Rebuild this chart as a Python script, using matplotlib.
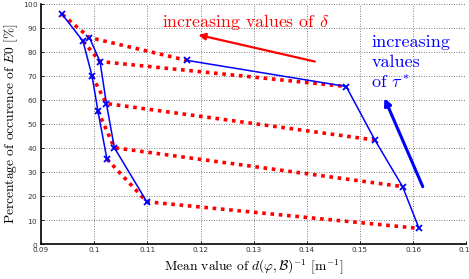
import numpy as np
import matplotlib
matplotlib.use('Agg')
import matplotlib.pyplot as plt

plt.rcParams['mathtext.fontset'] = 'cm'
plt.rcParams['font.family'] = 'serif'
plt.rcParams['font.serif'] = ['cmr10', 'DejaVu Serif']
plt.rcParams['axes.formatter.use_mathtext'] = True

# one row per delta value (blue curves), points ordered by tau*
x_delta1 = [0.0940, 0.0979, 0.0996, 0.1007, 0.1024]
y_delta1 = [95.6, 84.5, 70.0, 55.5, 35.4]
x_delta2 = [0.0991, 0.1011, 0.1023, 0.1038, 0.1099]
y_delta2 = [86.0, 76.0, 58.5, 40.1, 17.6]
x_delta3 = [0.1174, 0.1474, 0.1528, 0.1580, 0.1611]
y_delta3 = [76.5, 65.6, 43.3, 23.9, 6.5]

xticks = [0.09, 0.1, 0.11, 0.12, 0.13, 0.14, 0.15, 0.16, 0.17]
xtick_labels = ['0.09', '0.1', '0.11', '0.12', '0.13', '0.14', '0.15', '0.16', '0.17']
yticks = [0, 10, 20, 30, 40, 50, 60, 70, 80, 90, 100]

fig = plt.figure(figsize=(4.69, 2.79), dpi=100)
ax = fig.add_axes([0.0874, 0.1254, 0.907, 0.8606])

xs = np.array([x_delta1, x_delta2, x_delta3])
ys = np.array([y_delta1, y_delta2, y_delta3])

# red dotted: constant tau*, varying delta
for i in range(xs.shape[1]):
    ax.plot(xs[:, i], ys[:, i], color='red', lw=2.6, ls=(0, (1.0, 1.3)),
            dash_capstyle='butt', zorder=2)

# blue: constant delta, varying tau*
for x, y in zip(xs, ys):
    ax.plot(x, y, color='blue', lw=1.1, marker='x', ms=4.5, mew=1.3, zorder=3)

ax.annotate('', xy=(0.1196, 87.1), xytext=(0.1415, 76.0),
            arrowprops=dict(arrowstyle='-|>', color='red', lw=1.6,
                            mutation_scale=10, shrinkA=0, shrinkB=0))
ax.text(0.1128, 92.6, r'increasing values of $\delta$', color='red',
        fontsize=12.8, va='center', ha='left')

ax.annotate('', xy=(0.1546, 60.7), xytext=(0.1618, 23.9),
            arrowprops=dict(arrowstyle='-|>', color='blue', lw=2.2,
                            mutation_scale=10, shrinkA=0, shrinkB=0))
ax.text(0.1521, 75.3, 'increasing\nvalues\nof $\\tau^*$', color='blue',
        fontsize=13, va='center', ha='left', linespacing=1.35)

ax.set_xlim(0.09, 0.17)
ax.set_ylim(0, 100)
ax.set_xticks(xticks)
ax.set_xticklabels(xtick_labels)
ax.set_yticks(yticks)
for lab in ax.get_xticklabels() + ax.get_yticklabels():
    lab.set_family('DejaVu Sans')
    lab.set_fontsize(5.2)
    lab.set_color('#333333')
ax.tick_params(direction='in', length=2.5, width=0.6, pad=2)
ax.grid(True, ls=(0, (1, 2)), color='#555555', lw=0.6)
ax.spines['top'].set_visible(False)
ax.spines['right'].set_visible(False)
ax.spines['left'].set_linewidth(1.2)
ax.spines['bottom'].set_linewidth(1.2)

ax.set_xlabel(r'Mean value of $d(\varphi,\mathcal{B})^{-1}$ [m$^{-1}$]',
              fontsize=9.7, labelpad=3)
ax.set_ylabel(r'Percentage of occurence of $E0$ [%]', fontsize=9.7, labelpad=2)

fig.savefig('out.png', dpi=100)
